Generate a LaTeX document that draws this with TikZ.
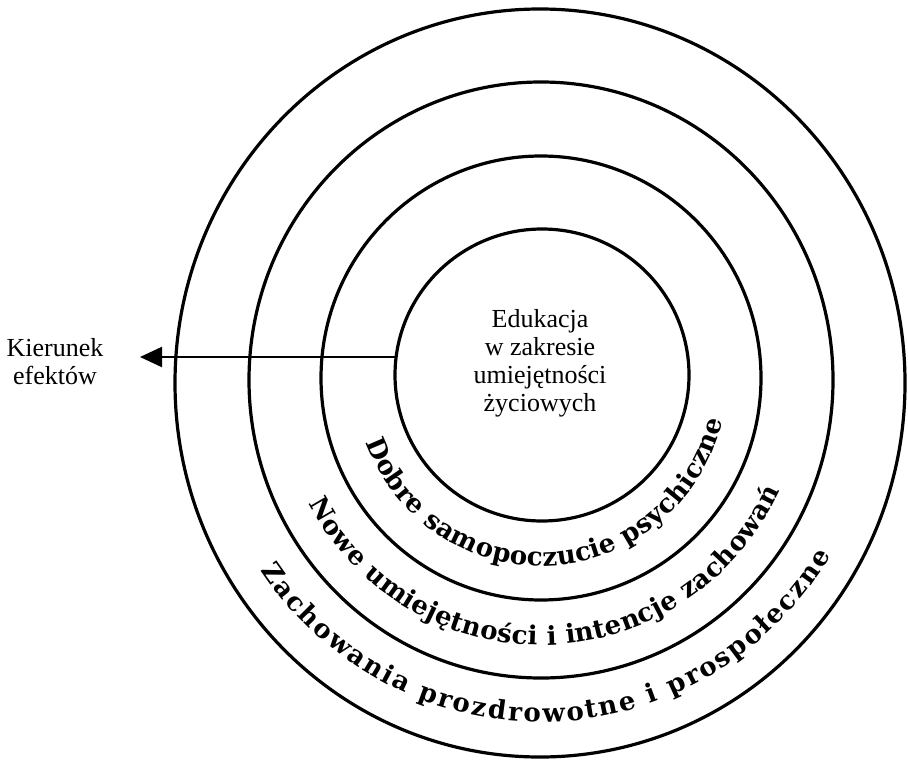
\documentclass[tikz,border=0pt]{standalone}
\usepackage{fontspec}
\setmainfont{Liberation Serif}
\newfontfamily\ringfont{DejaVu Serif}
\usetikzlibrary{arrows.meta,decorations.text}

\tikzset{
  ring/.style={line width=1.6pt},
  arrowline/.style={line width=1.1pt,-{Triangle[length=11pt,width=10pt]}},
  ringtext/.style={decorate,decoration={text along path,text align=fit to path,
      text={|\ringfont\bfseries\fontsize{13}{14}\selectfont|#1}}},
  label/.style={align=center,font=\fontsize{13}{14}\selectfont}
}

\begin{document}
\begin{tikzpicture}[x=0.5pt,y=0.5pt]
  \useasboundingbox (0,0) rectangle (908,762);
  % the four rings
  \draw[ring] (542,387) ellipse [x radius=147,y radius=146];
  \draw[ring] (541,384) ellipse [x radius=220,y radius=222];
  \draw[ring] (541,382) ellipse [x radius=292,y radius=298];
  \draw[ring] (540,379) ellipse [x radius=365,y radius=374];
  % texts
  \node[label] (core) at (540,399) {Edukacja\\w zakresie\\umiejętności\\życiowych};
  \node[label] (effects) at (55,400) {Kierunek\\efektów};
  \coordinate (start) at (396,405);
  \coordinate (tip) at (140,405);
  \draw[arrowline] (start) -- (tip);
  % words along the rings
  \path[ringtext={Dobre samopoczucie psychiczne}]
    (541,384) ++(200:186 and 188) arc[start angle=200,end angle=347,x radius=186,y radius=188];
  \path[ringtext={Nowe umiejętności i intencje zachowań}]
    (541,384) ++(208:263 and 267) arc[start angle=208,end angle=335,x radius=263,y radius=267];
  \path[ringtext={Zachowania prozdrowotne i prospołeczne}]
    (541,384) ++(214:338 and 344) arc[start angle=214,end angle=329,x radius=338,y radius=344];
\end{tikzpicture}
\end{document}
